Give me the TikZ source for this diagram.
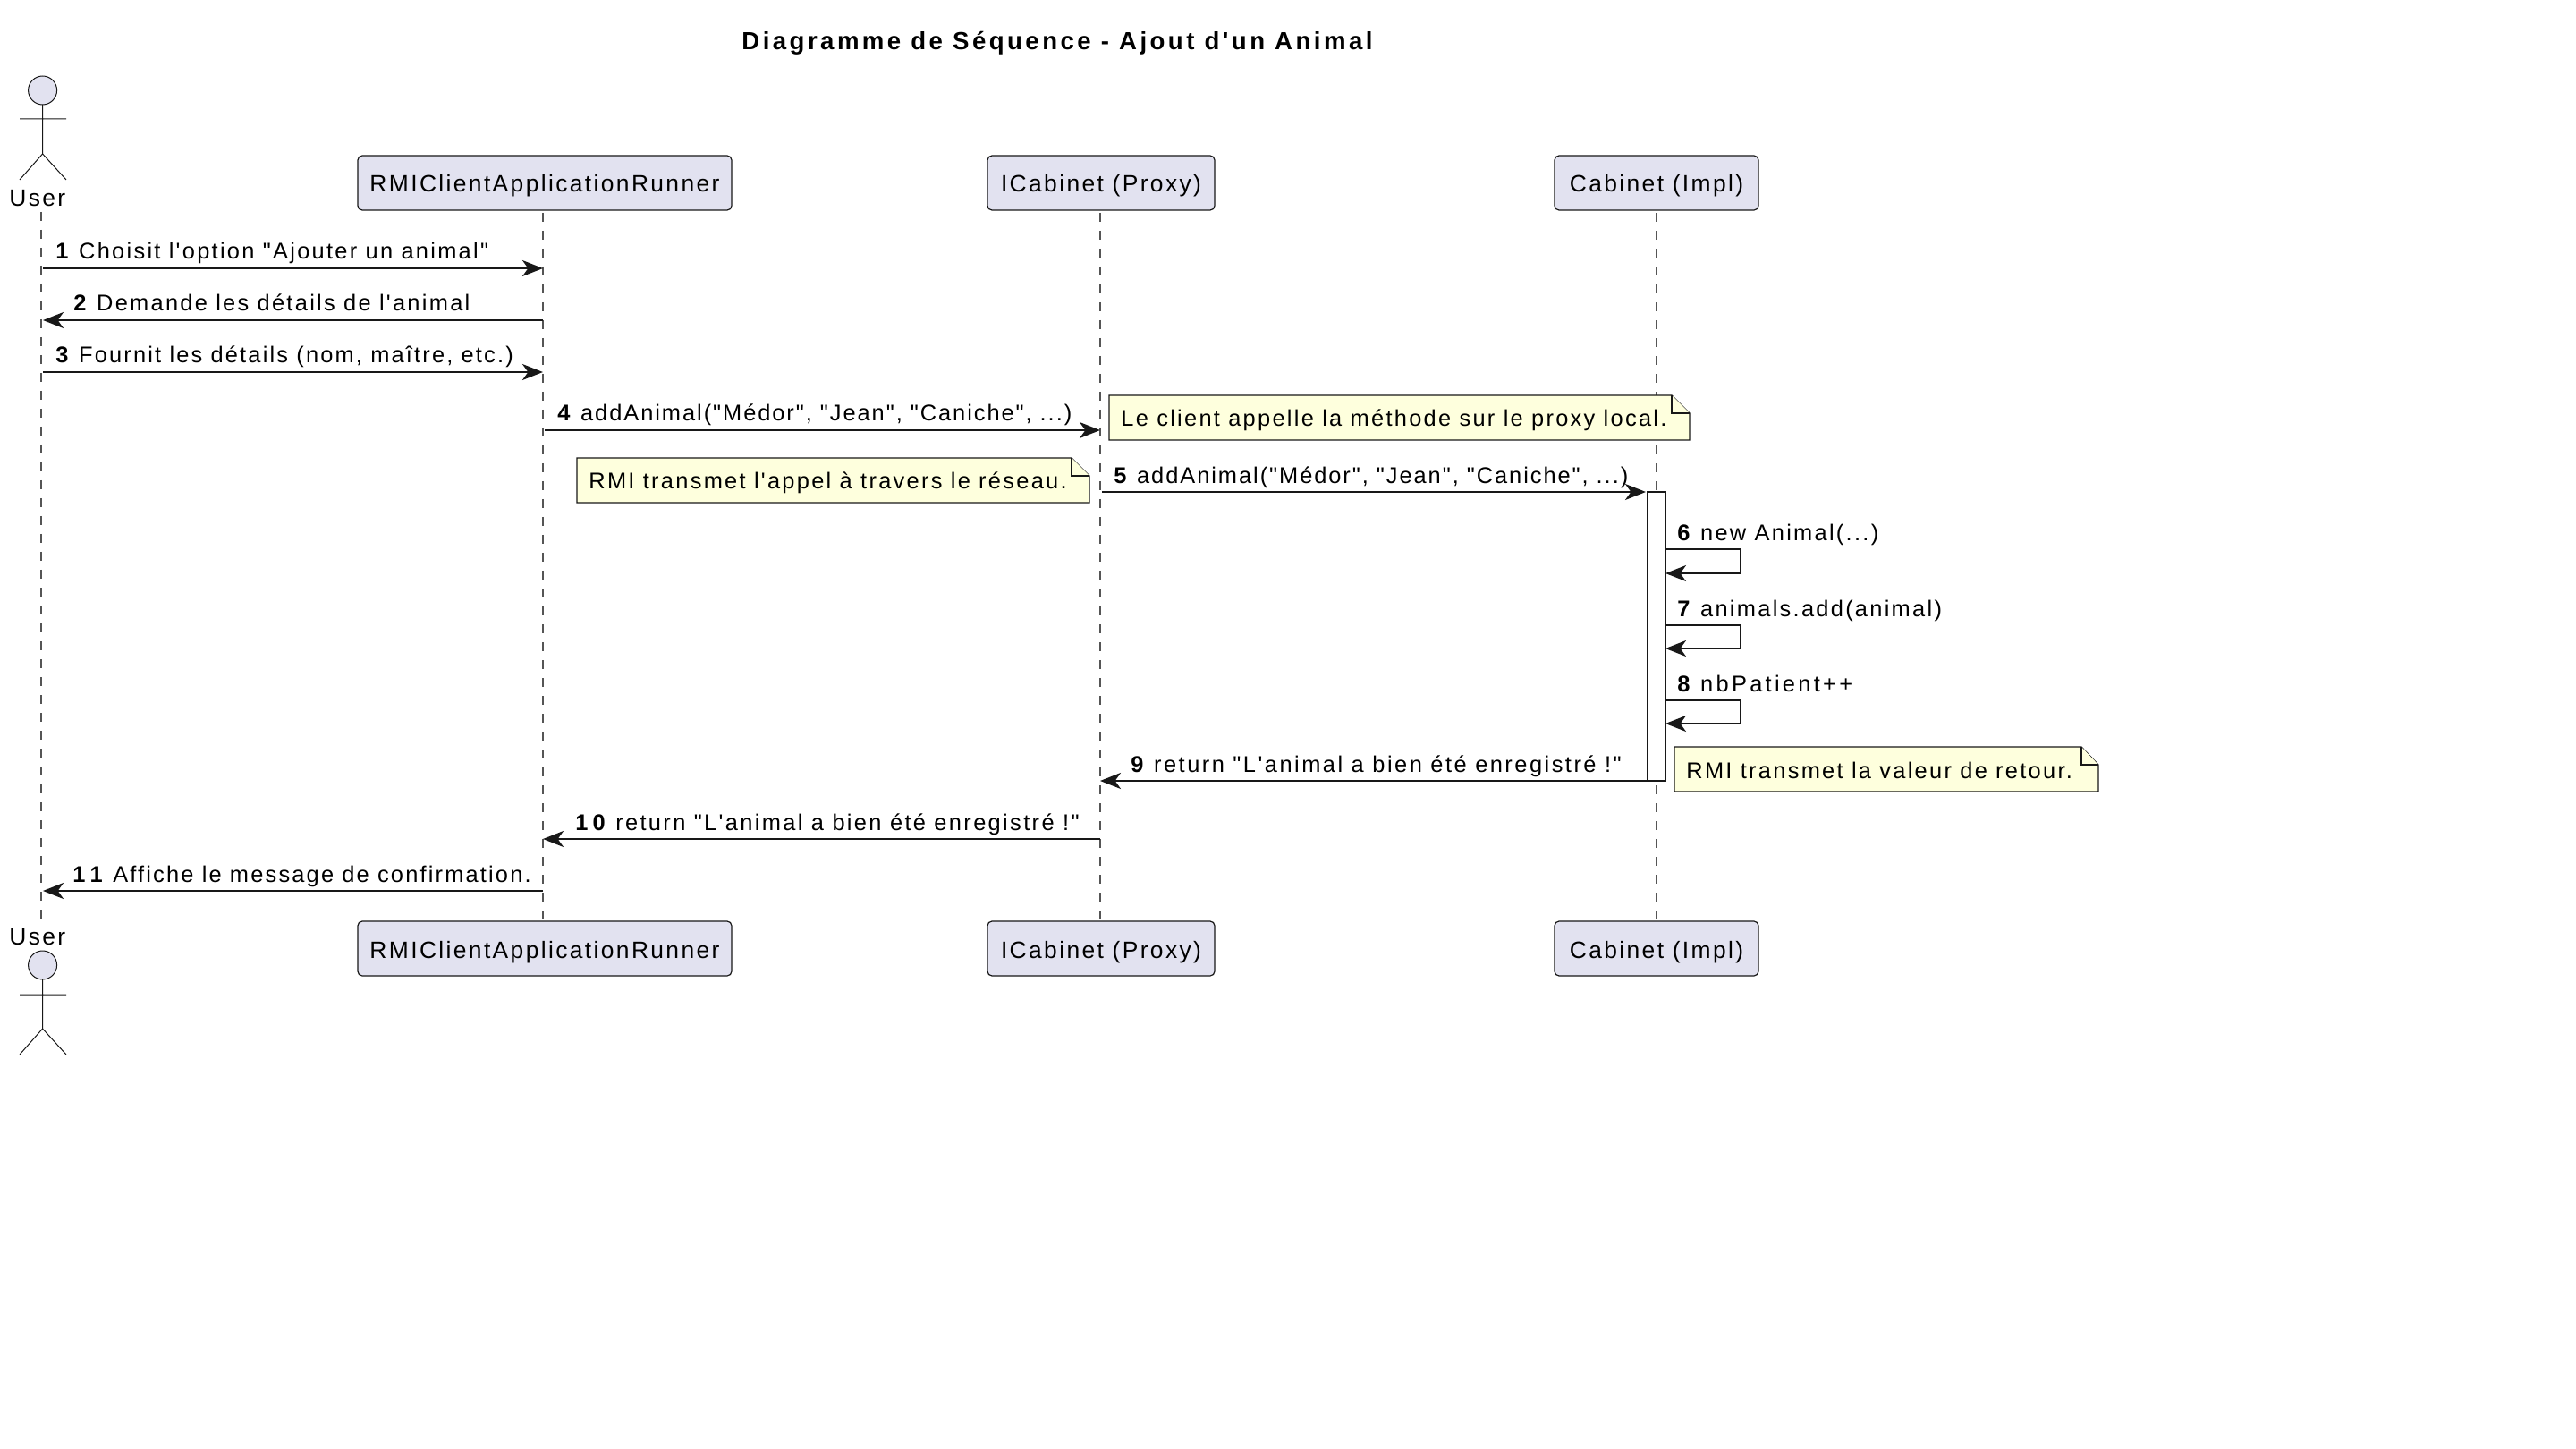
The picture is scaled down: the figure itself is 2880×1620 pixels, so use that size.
\documentclass[tikz,border=0pt]{standalone}
\usepackage{fontspec}
\setmainfont{Liberation Sans}[LetterSpace=9, Ligatures=TeXOff]
\newfontfamily\titlefont{Liberation Sans}[LetterSpace=12.5, Ligatures=TeXOff]
\usetikzlibrary{arrows.meta}
\definecolor{custom-ink}{HTML}{181818}
\definecolor{custom-lilac}{HTML}{E2E2F0}
\definecolor{custom-note}{HTML}{FEFFDD}
\definecolor{custom-dash}{HTML}{555555}
\tikzset{
  partbox/.style={draw=custom-ink, fill=custom-lilac, line width=0.6pt, rounded corners=2.5pt, inner sep=0pt, outer sep=0pt, minimum height=30.5pt, text height=14pt, text depth=3.5pt, font=\fontsize{13.2}{15}\selectfont, text=black},
  msglabel/.style={anchor=base west, inner sep=0pt, font=\fontsize{12.7}{14}\selectfont, text=black},
  actorlabel/.style={anchor=base west, inner sep=0pt, font=\fontsize{13.2}{15}\selectfont, text=black},
  msg/.style={draw=custom-ink, line width=1.1pt, -{Stealth[length=11.5pt, width=9pt, inset=3.2pt]}},
  lifeline/.style={draw=custom-dash, line width=0.6pt, dash pattern=on 5pt off 5pt},
  actorfig/.style={draw=custom-ink, line width=0.5pt, fill=custom-lilac},
  notebox/.style={draw=custom-ink, line width=0.6pt, fill=custom-note},
  actbox/.style={draw=custom-ink, line width=0.9pt, fill=white, inner sep=0pt, outer sep=0pt, minimum width=10pt, minimum height=161.5pt}
}
\begin{document}
\begin{tikzpicture}[x=0.5pt, y=-0.5pt]
\useasboundingbox (0,0) rectangle (2880,1620);

\node[anchor=base west, inner sep=0pt, font=\titlefont\bfseries\fontsize{13.8}{15}\selectfont] (title) at (829,56) {Diagramme de Séquence - Ajout d'un Animal};

\coordinate (usertopend) at (46,237);
\coordinate (userbotend) at (46,1027);
\node[partbox, minimum width=209pt] (runnertop) at (609,204.5) {RMIClientApplicationRunner};
\node[partbox, minimum width=209pt] (runnerbot) at (609,1060.5) {RMIClientApplicationRunner};
\node[partbox, minimum width=127pt] (proxytop) at (1231,204.5) {ICabinet (Proxy)};
\node[partbox, minimum width=127pt] (proxybot) at (1231,1060.5) {ICabinet (Proxy)};
\node[partbox, minimum width=114pt] (impltop) at (1852,204.5) {Cabinet (Impl)};
\node[partbox, minimum width=114pt] (implbot) at (1852,1060.5) {Cabinet (Impl)};

\draw[lifeline] (usertopend) -- (userbotend);
\draw[lifeline] (runnertop.south) ++(-2,3) -- (runnerbot.north -| 607,0);
\draw[lifeline] (proxytop.south) ++(-1,3) -- (proxybot.north -| 1230,0);
\draw[lifeline] (impltop.south) ++(0,3) -- (implbot.north);

\node[actorlabel] (usertop) at (10,231) {User};
\node[actorlabel] (userbot) at (10,1056) {User};

\filldraw[actorfig] (47.6,101) circle [x radius=16, y radius=16];
\draw[actorfig, fill=none] (47.6,117) -- (47.6,172) (22,133) -- (74,133) (22,201) -- (47.6,172) -- (74,201);
\filldraw[actorfig] (47.6,1079) circle [x radius=16, y radius=16];
\draw[actorfig, fill=none] (47.6,1095) -- (47.6,1150) (22,1112) -- (74,1112) (22,1179) -- (47.6,1150) -- (74,1179);

\coordinate (userline) at (46,300);
\coordinate (runnerline) at (607,300);
\coordinate (proxyline) at (1230,300);
\coordinate (selfedge) at (1946,300);

\node[actbox] (activation) at (1852,711.5) {};

\coordinate (m1) at (0,300);
\coordinate (m2) at (0,358);
\coordinate (m3) at (0,416);
\coordinate (m4) at (0,481);
\coordinate (m6a) at (0,614);
\coordinate (m6b) at (0,641);
\coordinate (m7a) at (0,699);
\coordinate (m7b) at (0,725);
\coordinate (m8a) at (0,783);
\coordinate (m8b) at (0,809);
\coordinate (m10) at (0,938);
\coordinate (m11) at (0,996);

\draw[msg, shorten <=1pt] (userline |- m1) -- (runnerline |- m1);
\draw[msg, shorten >=1pt] (runnerline |- m2) -- (userline |- m2);
\draw[msg, shorten <=1pt] (userline |- m3) -- (runnerline |- m3);
\draw[msg, shorten <=1pt] (runnerline |- m4) -- (proxyline |- m4);
\draw[msg, shorten <=1pt, shorten >=1pt] (proxyline |- activation.north) -- (activation.north west);
\draw[msg] (activation.east |- m6a) -| (selfedge |- m6b) -- (activation.east |- m6b);
\draw[msg] (activation.east |- m7a) -| (selfedge |- m7b) -- (activation.east |- m7b);
\draw[msg] (activation.east |- m8a) -| (selfedge |- m8b) -- (activation.east |- m8b);
\draw[msg] (activation.south east) -- (proxyline |- activation.south);
\draw[msg] (proxyline |- m10) -- (runnerline |- m10);
\draw[msg, shorten >=1pt] (runnerline |- m11) -- (userline |- m11);

\node[msglabel] (l1) at (62,290) {\textbf{1} Choisit l'option "Ajouter un animal"};
\node[msglabel] (l2) at (82,348) {\textbf{2} Demande les détails de l'animal};
\node[msglabel] (l3) at (62,406) {\textbf{3} \addfontfeature{LetterSpace=8.6}Fournit les détails (nom, maître, etc.)};
\node[msglabel] (l4) at (623,471) {\textbf{4} \addfontfeature{LetterSpace=7.7}addAnimal("Médor", "Jean", "Caniche", ...)};
\node[msglabel] (l5) at (1245,541) {\textbf{5} \addfontfeature{LetterSpace=7.7}addAnimal("Médor", "Jean", "Caniche", ...)};
\node[msglabel] (l6) at (1875,604) {\textbf{6} new Animal(...)};
\node[msglabel] (l7) at (1875,689) {\textbf{7} animals.add(animal)};
\node[msglabel] (l8) at (1875,773) {\textbf{8} \addfontfeature{LetterSpace=13}nbPatient++};
\node[msglabel] (l9) at (1264,863) {\textbf{9} \addfontfeature{LetterSpace=9.8}return "L'animal a bien été enregistré !"};
\node[msglabel] (l10) at (643,928) {\textbf{1\kern2.5pt 0} \addfontfeature{LetterSpace=9.3}return "L'animal a bien été enregistré !"};
\node[msglabel] (l11) at (81,986) {\textbf{1\kern2.5pt 1} \addfontfeature{LetterSpace=8.6}Affiche le message de confirmation.};

\filldraw[notebox] (1240,442) -- (1869,442) -- (1889,462) -- (1889,492) -- (1240,492) -- cycle;
\draw[notebox] (1869,442) -- (1869,462) -- (1889,462);
\node[msglabel] (n1) at (1253,477) {Le client appelle la méthode sur le proxy local.};

\filldraw[notebox] (645,512) -- (1198,512) -- (1218,532) -- (1218,562) -- (645,562) -- cycle;
\draw[notebox] (1198,512) -- (1198,532) -- (1218,532);
\node[msglabel] (n2) at (658,547) {RMI transmet l'appel à travers le réseau.};

\filldraw[notebox] (1872,835) -- (2327,835) -- (2346,855) -- (2346,885) -- (1872,885) -- cycle;
\draw[notebox] (2327,835) -- (2327,855) -- (2346,855);
\node[msglabel] (n3) at (1885,870) {RMI transmet la valeur de retour.};

\end{tikzpicture}
\end{document}
